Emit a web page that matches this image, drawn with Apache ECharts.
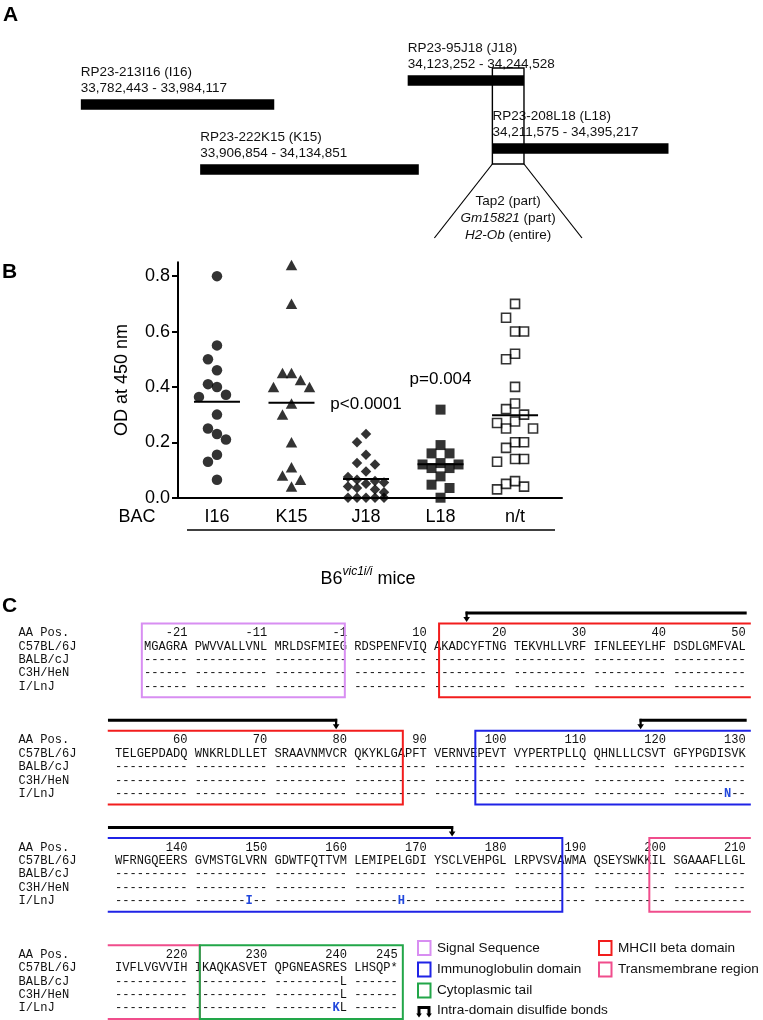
<!DOCTYPE html>
<html>
<head>
<meta charset="utf-8">
<title>BAC mapping, OD ELISA and H2-Ob alignment</title>
<script src="https://cdn.jsdelivr.net/npm/echarts@6.0.0/dist/echarts.min.js"></script>
<style>
html,body{margin:0;padding:0;background:#ffffff;}
#chart{width:763px;height:1020px;}
</style>
</head>
<body>
<div id="chart"></div>
<script>
// ================= DATA =================
// ---- Panel A: BAC clones (genomic coordinates, bp)
const bacClones = ['RP23-213I16', 'RP23-222K15', 'RP23-95J18', 'RP23-208L18'];
const bacShort = ['I16', 'K15', 'J18', 'L18'];
const bacStart = [33782443, 33906854, 34123252, 34211575];
const bacEnd = [33984117, 34134851, 34244528, 34395217];
const geneNames = ['Tap2', 'Gm15821', 'H2-Ob'];
const geneItalic = [false, true, true];
const geneCoverage = ['part', 'part', 'entire'];

// ---- Panel B: OD at 450 nm per BAC group
const bacCategories = ['I16', 'K15', 'J18', 'L18', 'n/t'];
const odI16 = [0.80, 0.55, 0.50, 0.46, 0.41, 0.40, 0.372, 0.364, 0.30, 0.25, 0.23, 0.21, 0.155, 0.13, 0.065];
const odK15 = [0.84, 0.70, 0.45, 0.45, 0.425, 0.40, 0.40, 0.34, 0.30, 0.20, 0.11, 0.08, 0.065, 0.04];
const odJ18 = [0.23, 0.20, 0.155, 0.125, 0.12, 0.095, 0.075, 0.065, 0.06, 0.055, 0.05, 0.04, 0.035, 0.03, 0.02, 0, 0, 0, 0, 0];
const odL18 = [0.318, 0.19, 0.16, 0.16, 0.125, 0.12, 0.12, 0.107, 0.107, 0.077, 0.047, 0.035, 0];
const odNT = [0.70, 0.65, 0.60, 0.60, 0.52, 0.50, 0.40, 0.34, 0.32, 0.30, 0.275, 0.27, 0.25, 0.25, 0.20, 0.20, 0.18, 0.14, 0.14, 0.13, 0.06, 0.05, 0.04, 0.03];
const pValueText = ['', '', 'p<0.0001', 'p=0.004', ''];
const yTickValues = [0, 0.2, 0.4, 0.6, 0.8];

// ---- Panel C: H2-Ob amino-acid alignment
const strainNames = ['C57BL/6J', 'BALB/cJ', 'C3H/HeN', 'I/LnJ'];
const seqLine1 = 'MGAGRA PWVVALLVNL MRLDSFMIEG RDSPENFVIQ AKADCYFTNG TEKVHLLVRF IFNLEEYLHF DSDLGMFVAL';
const seqLine2 = 'TELGEPDADQ WNKRLDLLET SRAAVNMVCR QKYKLGAPFT VERNVEPEVT VYPERTPLLQ QHNLLLCSVT GFYPGDISVK';
const seqLine3 = 'WFRNGQEERS GVMSTGLVRN GDWTFQTTVM LEMIPELGDI YSCLVEHPGL LRPVSVAWMA QSEYSWKKIL SGAAAFLLGL';
const seqLine4 = 'IVFLVGVVIH IKAQKASVET QPGNEASRES LHSQP*';
const signalLength = 26;               // residues -26 .. -1
const variantStrain = ['BALB/cJ', 'C3H/HeN', 'I/LnJ', 'I/LnJ', 'I/LnJ', 'I/LnJ', 'I/LnJ'];
const variantPos = [240, 240, 128, 148, 167, 239, 240];
const variantAA = ['L', 'L', 'N', 'I', 'H', 'K', 'L'];
const domainNames = ['Signal Sequence', 'MHCII beta domain', 'Immunoglobulin domain', 'Transmembrane region', 'Cytoplasmic tail'];
const domainFirst = [-26, 12, 97, 199, 222];
const domainLast = [-1, 87, 187, 221, 246];   // 246 = stop codon (*)
const disulfideCysA = [15, 117];
const disulfideCysB = [79, 173];
const bondLegendText = 'Intra-domain disulfide bonds';

// ================= STYLE / LAYOUT =================
const SANS = '"Liberation Sans", Arial, Helvetica, sans-serif';
const MONO = '"Liberation Mono", "Courier New", monospace';
const INK = '#111111';
const domainColors = ['#d88ef2', '#f21d1d', '#1f23e6', '#f04d8c', '#22a649'];
const variantBlue = '#2147dc';

// Panel A layout
const gridA = {left: 60, top: 0, width: 640, height: 250};
const xRangeA = [33760709, 34428071];
const LANE_TOP_PX = [99.3, 164.3, 75.3, 143.3];
const BAR_H = 10.5;

// Panel B layout
const gridB = {left: 178, top: 262.3, width: 384, height: 235.4};
const xRangeB = [0.477, 5.63];
const yRangeB = [0, 0.85];
const pxPerXB = gridB.width / (xRangeB[1] - xRangeB[0]);
const pxPerYB = gridB.height / (yRangeB[1] - yRangeB[0]);

// Panel C layout
const CH = 7.25;          // monospace character pitch
const ROW = 13.4;         // row pitch
const BLOCK_ROWS = 8;
const xRangeC = [-14, 88];
const yRangeC = [-2, 28.8];
const gridC = {left: 115 + xRangeC[0] * CH, top: 633 + yRangeC[0] * ROW,
               width: (xRangeC[1] - xRangeC[0]) * CH, height: (yRangeC[1] - yRangeC[0]) * ROW};
const MONO_SIZE = CH / 0.6;

// ================= HELPERS =================
const fmtBp = v => v.toLocaleString('en-US');

// dot-plot spreading: points sharing a value band are pushed to side slots (max +/-2 slots)
function swarmOffsets(values, slotPx, minDyPx) {
  const order = values.map((_, i) => i).sort((a, b) => values[b] - values[a]);
  const placed = [];
  const out = new Array(values.length).fill(0);
  const cand = [0, -1, 1, -2, 2];
  order.forEach(i => {
    const y = values[i] * pxPerYB;
    let best = null, bestScore = -1;
    for (const k of cand) {
      const x = k * slotPx;
      let score = Infinity;
      placed.forEach(p => {
        const ex = (p.x - x) / slotPx, ey = (p.y - y) / minDyPx;
        score = Math.min(score, Math.sqrt(ex * ex + ey * ey));
      });
      if (score >= 0.999) { best = x; break; }
      if (score > bestScore) { bestScore = score; best = x; }
    }
    out[i] = best;
    placed.push({x: best, y});
  });
  return out;
}

// alignment geometry
const refSeq = [seqLine1, seqLine2, seqLine3, seqLine4].join('').replace(/ /g, '');
const GROUP = 10, PER_LINE = 80;
const PAD = (GROUP - signalLength % GROUP) % GROUP;
const slotOf = i => i + PAD;
const lineOf = i => Math.floor(slotOf(i) / PER_LINE);
const colOf = i => { const s = slotOf(i) % PER_LINE; return Math.floor(s / GROUP) * (GROUP + 1) + s % GROUP; };
const resOf = i => i < signalLength ? i - signalLength : i - signalLength + 1;
const idxOf = r => r < 0 ? r + signalLength : r + signalLength - 1;
const nLines = lineOf(refSeq.length - 1) + 1;
const groupsC = [];
for (let i = 0; i < refSeq.length; i++) {
  const gk = Math.floor(slotOf(i) / GROUP);
  let g = groupsC[groupsC.length - 1];
  if (!g || g.key !== gk) { g = {key: gk, line: lineOf(i), first: i, last: i}; groupsC.push(g); }
  g.last = i;
}
const variantMap = {};
variantStrain.forEach((s, k) => {
  const shared = variantStrain.some((s2, k2) => k2 !== k && variantPos[k2] === variantPos[k] && variantAA[k2] === variantAA[k]);
  variantMap[s + '|' + variantPos[k]] = {aa: variantAA[k], novel: !shared};
});

function monoText(text, x, y, align, withRich) {
  const style = {text, fill: INK, fontSize: MONO_SIZE, fontFamily: MONO, align, verticalAlign: 'middle'};
  if (withRich) style.rich = {nov: {fill: variantBlue, fontWeight: 'bold', fontSize: MONO_SIZE, fontFamily: MONO}};
  return {type: 'text', x, y, style};
}
function seg(x1, y1, x2, y2, stroke, w) {
  return {type: 'line', shape: {x1, y1, x2, y2}, style: {stroke, lineWidth: w}};
}
function downArrow(x, y) {
  return [
    seg(x, y - 1.4, x, y + 5, '#000', 2.2),
    {type: 'polygon', shape: {points: [[x - 3.3, y + 4], [x + 3.3, y + 4], [x, y + 9]]}, style: {fill: '#000'}}
  ];
}

// ================= SERIES =================
const series = [];

// Panel A: BAC bars with labels
series.push({
  type: 'custom', xAxisIndex: 0, yAxisIndex: 0, silent: true,
  data: bacStart.map((s, i) => [s, bacEnd[i], i]),
  encode: {x: [0, 1], y: 2},
  renderItem(params, api) {
    const i = params.dataIndex;
    const s = api.coord([api.value(0), LANE_TOP_PX[i]]);
    const e = api.coord([api.value(1), LANE_TOP_PX[i]]);
    const ts = {fill: INK, fontSize: 13.5, fontFamily: SANS, align: 'left', verticalAlign: 'middle'};
    return {type: 'group', children: [
      {type: 'rect', shape: {x: s[0], y: s[1], width: e[0] - s[0], height: BAR_H}, style: {fill: '#000'}},
      {type: 'text', x: s[0], y: s[1] - 27.5, style: Object.assign({text: bacClones[i] + ' (' + bacShort[i] + ')'}, ts)},
      {type: 'text', x: s[0], y: s[1] - 11, style: Object.assign({text: fmtBp(bacStart[i]) + ' - ' + fmtBp(bacEnd[i])}, ts)}
    ]};
  }
});

// Panel A: minimal region shared by J18 and L18
const jIdx = bacShort.indexOf('J18'), lIdx = bacShort.indexOf('L18');
const regionStart = Math.max(bacStart[jIdx], bacStart[lIdx]);
const regionEnd = Math.min(bacEnd[jIdx], bacEnd[lIdx]);
series.push({
  type: 'custom', xAxisIndex: 0, yAxisIndex: 0, silent: true,
  data: [[regionStart, regionEnd, 0]],
  encode: {x: [0, 1], y: 2},
  renderItem(params, api) {
    const a = api.coord([api.value(0), 68]);
    const b = api.coord([api.value(1), 164]);
    const cx = (a[0] + b[0]) / 2;
    const children = [
      {type: 'rect', shape: {x: a[0], y: a[1], width: b[0] - a[0], height: b[1] - a[1]},
       style: {fill: null, stroke: '#000', lineWidth: 1.4}},
      seg(a[0], b[1], a[0] - 58, 238, '#000', 1.2),
      seg(b[0], b[1], b[0] + 58, 238, '#000', 1.2)
    ];
    geneNames.forEach((g, k) => {
      const txt = (geneItalic[k] ? '{it|' + g + '}' : g) + ' (' + geneCoverage[k] + ')';
      children.push({type: 'text', x: cx, y: 201.7 + k * 16.6, style: {
        text: txt, fill: INK, fontSize: 13.5, fontFamily: SANS, align: 'center', verticalAlign: 'middle',
        rich: {it: {fontStyle: 'italic', fontSize: 13.5, fontFamily: SANS, fill: INK}}
      }});
    });
    return {type: 'group', children};
  }
});

// Panel B: scatter dot plot
const groupValues = [odI16, odK15, odJ18, odL18, odNT];
const groupSymbols = ['circle', 'triangle', 'diamond', 'rect', 'rect'];
const groupSizes = [10.5, [11.5, 10.5], 10.5, 10, 9];
const groupHollow = [false, false, false, false, true];
groupValues.forEach((vals, g) => {
  const off = swarmOffsets(vals, 9, 16);
  series.push({
    type: 'scatter', xAxisIndex: 1, yAxisIndex: 1, silent: true, z: 3,
    symbol: groupSymbols[g], symbolSize: groupSizes[g],
    itemStyle: groupHollow[g]
      ? {color: 'rgba(255,255,255,0)', borderColor: '#000', borderWidth: 1.6}
      : {color: '#000', borderWidth: 0},
    data: vals.map((v, j) => [g + 1 + off[j] / pxPerXB, v])
  });
});

// Panel B: group means and p-values
const meansB = groupValues.map(v => v.reduce((a, b) => a + b, 0) / v.length);
const maxB = groupValues.map(v => Math.max.apply(null, v));
series.push({
  type: 'custom', xAxisIndex: 1, yAxisIndex: 1, silent: true, z: 4,
  data: meansB.map((m, g) => [g + 1, m, maxB[g]]),
  encode: {x: 0, y: 1},
  renderItem(params, api) {
    const g = params.dataIndex;
    const c = api.coord([api.value(0), api.value(1)]);
    const t = api.coord([api.value(0), api.value(2)]);
    const children = [seg(c[0] - 23, c[1], c[0] + 23, c[1], '#000', 2)];
    if (pValueText[g]) {
      children.push({type: 'text', x: t[0], y: t[1] - 30, style: {
        text: pValueText[g], fill: '#000', fontSize: 17, fontFamily: SANS, align: 'center', verticalAlign: 'middle'}});
    }
    return {type: 'group', children};
  }
});

// Panel C: alignment text
series.push({
  type: 'custom', xAxisIndex: 2, yAxisIndex: 2, silent: true,
  data: Array.from({length: nLines}, (_, L) => [0, L * BLOCK_ROWS]),
  encode: {x: 0, y: 1},
  renderItem(params, api) {
    const L = params.dataIndex;
    const base = L * BLOCK_ROWS;
    const P = (col, row) => api.coord([col, row]);
    const children = [];
    ['AA Pos.'].concat(strainNames).forEach((t, r) => {
      const p = P(-13.3, base + r);
      children.push(monoText(t, p[0], p[1], 'left', false));
    });
    groupsC.filter(g => g.line === L).forEach(g => {
      let lastRes = g.last;
      if (refSeq[lastRes] === '*') lastRes--;
      const pl = P(colOf(g.last) + 1, base);
      children.push(monoText(String(resOf(lastRes)), pl[0], pl[1], 'right', false));
      const p1 = P(colOf(g.first), base + 1);
      children.push(monoText(refSeq.slice(g.first, g.last + 1), p1[0], p1[1], 'left', false));
      strainNames.slice(1).forEach((s, k) => {
        let txt = '';
        for (let i = g.first; i <= g.last; i++) {
          const v = refSeq[i] === '*' ? null : variantMap[s + '|' + resOf(i)];
          txt += v ? (v.novel ? '{nov|' + v.aa + '}' : v.aa) : '-';
        }
        const p = P(colOf(g.first), base + 2 + k);
        children.push(monoText(txt, p[0], p[1], 'left', true));
      });
    });
    return {type: 'group', children};
  }
});

// Panel C: domain boxes
series.push({
  type: 'custom', xAxisIndex: 2, yAxisIndex: 2, silent: true, z: 3,
  data: domainNames.map((_, d) => [d, 0]),
  encode: {x: 0, y: 1},
  renderItem(params, api) {
    const d = params.dataIndex;
    const fi = idxOf(domainFirst[d]), li = idxOf(domainLast[d]);
    const endPad = li === refSeq.length - 1 ? 1 : 0;
    const children = [];
    const st = {stroke: domainColors[d], lineWidth: 2, fill: null};
    for (let L = lineOf(fi); L <= lineOf(li); L++) {
      const starts = L === lineOf(fi), ends = L === lineOf(li);
      const left = starts ? colOf(fi) - 0.3 : -1.0;
      const right = ends ? colOf(li) + 0.7 + endPad : 87.7;
      const a = api.coord([left, L * BLOCK_ROWS - 0.7]);
      const b = api.coord([right, L * BLOCK_ROWS + 4.8]);
      if (starts && ends) {
        children.push({type: 'polygon', shape: {points: [[a[0], a[1]], [b[0], a[1]], [b[0], b[1]], [a[0], b[1]]]}, style: st});
      } else if (starts) {
        children.push({type: 'polyline', shape: {points: [[b[0], a[1]], [a[0], a[1]], [a[0], b[1]], [b[0], b[1]]]}, style: st});
      } else if (ends) {
        children.push({type: 'polyline', shape: {points: [[a[0], a[1]], [b[0], a[1]], [b[0], b[1]], [a[0], b[1]]]}, style: st});
      } else {
        children.push(seg(a[0], a[1], b[0], a[1], domainColors[d], 2), seg(a[0], b[1], b[0], b[1], domainColors[d], 2));
      }
    }
    return {type: 'group', children};
  }
});

// Panel C: disulfide-bond brackets
series.push({
  type: 'custom', xAxisIndex: 2, yAxisIndex: 2, silent: true, z: 4,
  data: disulfideCysA.map((_, b) => [b, 0]),
  encode: {x: 0, y: 1},
  renderItem(params, api) {
    const b = params.dataIndex;
    const i1 = idxOf(disulfideCysA[b]), i2 = idxOf(disulfideCysB[b]);
    const L1 = lineOf(i1), L2 = lineOf(i2);
    const children = [];
    for (let L = L1; L <= L2; L++) {
      const from = L === L1 ? colOf(i1) + 0.5 : -0.97;
      const to = L === L2 ? colOf(i2) + 0.5 : 87.13;
      const row = L * BLOCK_ROWS - 1.49;
      const a = api.coord([from, row]), c = api.coord([to, row]);
      children.push(seg(a[0] - (L === L1 ? 1.1 : 0), a[1], c[0] + (L === L2 ? 1.1 : 0), c[1], '#000', 3));
      if (L === L1) children.push.apply(children, downArrow(a[0], a[1]));
      if (L === L2) children.push.apply(children, downArrow(c[0], c[1]));
    }
    return {type: 'group', children};
  }
});

// ================= GRAPHIC (annotations) =================
const graphic = [
  {type: 'text', x: 3, y: 15, style: {text: 'A', fontSize: 21, fontWeight: 'bold', fontFamily: SANS, fill: '#000', verticalAlign: 'middle'}},
  {type: 'text', x: 2, y: 272, style: {text: 'B', fontSize: 21, fontWeight: 'bold', fontFamily: SANS, fill: '#000', verticalAlign: 'middle'}},
  {type: 'text', x: 2, y: 606, style: {text: 'C', fontSize: 21, fontWeight: 'bold', fontFamily: SANS, fill: '#000', verticalAlign: 'middle'}},
  {type: 'text', x: 137, y: 517, style: {text: 'BAC', fontSize: 18, fontFamily: SANS, fill: '#000', align: 'center', verticalAlign: 'middle'}},
  {type: 'line', shape: {x1: 187, y1: 530, x2: 555, y2: 530}, style: {stroke: '#000', lineWidth: 1.5}},
  {type: 'text', x: 368, y: 577, style: {
    text: '{m|B6}{s|vic1i/i}{m| mice}', align: 'center', verticalAlign: 'middle',
    rich: {
      m: {fontSize: 18, fontFamily: SANS, fill: '#000', lineHeight: 22, verticalAlign: 'bottom'},
      s: {fontSize: 12, fontFamily: SANS, fontStyle: 'italic', fill: '#000', lineHeight: 12, verticalAlign: 'top'}
    }}}
];
const legendCols = [417, 598];
const legendRows = [948, 969.5, 990.5, 1010.5];
domainNames.forEach((n, k) => {
  const x = legendCols[k % 2], y = legendRows[Math.floor(k / 2)];
  graphic.push({type: 'rect', shape: {x: x + 1, y: y - 7, width: 12.5, height: 14},
                style: {fill: '#fff', stroke: domainColors[k], lineWidth: 2}});
  graphic.push({type: 'text', x: x + 20, y: y, style: {text: n, fontSize: 13.6, fontFamily: SANS, fill: INK, verticalAlign: 'middle'}});
});
{
  const x = legendCols[0], y = legendRows[3];
  graphic.push({type: 'polyline', shape: {points: [[x + 2, y + 4], [x + 2, y - 3], [x + 12, y - 3], [x + 12, y + 4]]},
                style: {stroke: '#000', lineWidth: 3, fill: null}});
  graphic.push({type: 'polygon', shape: {points: [[x - 0.8, y + 3], [x + 4.8, y + 3], [x + 2, y + 7]]}, style: {fill: '#000'}});
  graphic.push({type: 'polygon', shape: {points: [[x + 9.2, y + 3], [x + 14.8, y + 3], [x + 12, y + 7]]}, style: {fill: '#000'}});
  graphic.push({type: 'text', x: x + 20, y: y, style: {text: bondLegendText, fontSize: 13.6, fontFamily: SANS, fill: INK, verticalAlign: 'middle'}});
}

// ================= OPTION =================
const hiddenAxis = (gridIndex, range, inverse) => ({
  type: 'value', gridIndex, min: range[0], max: range[1], inverse: !!inverse, show: false
});
const option = {
  animation: false,
  backgroundColor: '#ffffff',
  textStyle: {fontFamily: SANS},
  grid: [
    Object.assign({containLabel: false, outerBoundsMode: 'none'}, gridA),
    Object.assign({containLabel: false, outerBoundsMode: 'none'}, gridB),
    Object.assign({containLabel: false, outerBoundsMode: 'none'}, gridC)
  ],
  xAxis: [
    hiddenAxis(0, xRangeA, false),
    {
      type: 'value', gridIndex: 1, min: xRangeB[0], max: xRangeB[1],
      axisLine: {show: true, onZero: false, lineStyle: {color: '#000', width: 2}},
      axisTick: {show: false},
      splitLine: {show: false},
      axisLabel: {
        customValues: bacCategories.map((_, i) => i + 1),
        formatter: v => bacCategories[Math.round(v) - 1],
        color: '#000', fontSize: 18, fontFamily: SANS, margin: 10
      }
    },
    hiddenAxis(2, xRangeC, false)
  ],
  yAxis: [
    hiddenAxis(0, [0, 250], true),
    {
      type: 'value', gridIndex: 1, min: yRangeB[0], max: yRangeB[1],
      name: 'OD at 450 nm', nameLocation: 'middle', nameGap: 47, nameRotate: 90,
      nameTextStyle: {color: '#000', fontSize: 18, fontFamily: SANS},
      axisLine: {show: true, onZero: false, lineStyle: {color: '#000', width: 2}},
      axisTick: {show: true, inside: false, length: 6, lineStyle: {color: '#000', width: 2}, customValues: yTickValues},
      splitLine: {show: false},
      axisLabel: {customValues: yTickValues, formatter: v => Number(v).toFixed(1), color: '#000', fontSize: 18, fontFamily: SANS, margin: 8}
    },
    hiddenAxis(2, yRangeC, true)
  ],
  series,
  graphic
};

const chart = echarts.init(document.getElementById('chart'), null, {renderer: 'canvas', width: 763, height: 1020});
chart.setOption(option);
</script>
</body>
</html>
